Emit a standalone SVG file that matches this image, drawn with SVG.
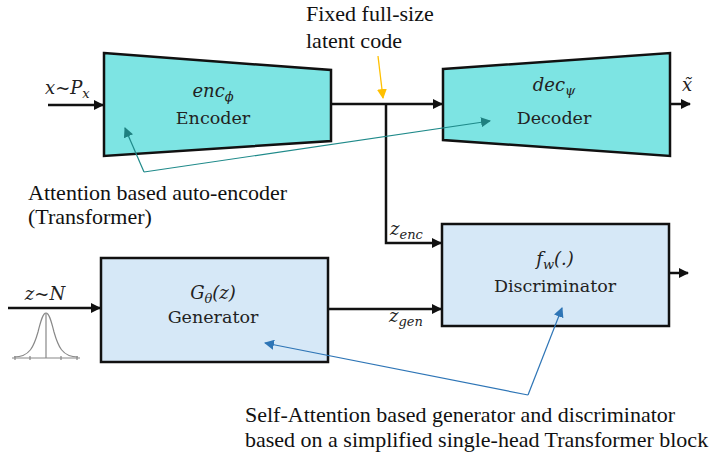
<svg xmlns="http://www.w3.org/2000/svg" width="717" height="453" viewBox="0 0 717 453">
<style>
.box{stroke:#111;stroke-width:2.5;stroke-linejoin:miter}
.ae{fill:#7de4e3}
.gd{fill:#d6e8f7}
.wire{fill:none;stroke:#111;stroke-width:2.5}
.lbl{font-family:"DejaVu Serif",serif;font-size:17.5px;fill:#222;text-anchor:middle}
.math{font-family:"DejaVu Serif",serif;font-style:italic;font-size:18px;fill:#222}
.sub{font-size:13px}
.note{font-family:"Liberation Serif","Times New Roman",serif;font-size:22px;fill:#111}
.teal{fill:none;stroke:#1f8a8a;stroke-width:1.2}
.blue{fill:none;stroke:#2e75b6;stroke-width:1.2}
.gold{fill:none;stroke:#ffc000;stroke-width:1.3}
</style>
<defs>
<marker id="ah" viewBox="0 0 10 10" refX="9" refY="5" markerWidth="4" markerHeight="4" orient="auto" markerUnits="strokeWidth"><path d="M0,0 L10,5 L0,10 z" fill="#111"/></marker>
<marker id="ahTeal" viewBox="0 0 10 10" refX="9" refY="5" markerWidth="10" markerHeight="10" orient="auto" markerUnits="userSpaceOnUse"><path d="M0,0 L10,5 L0,10 z" fill="#1f8080"/></marker>
<marker id="ahBlue" viewBox="0 0 10 10" refX="9" refY="5" markerWidth="10" markerHeight="10" orient="auto" markerUnits="userSpaceOnUse"><path d="M0,0 L10,5 L0,10 z" fill="#2e75b6"/></marker>
<marker id="ahGold" viewBox="0 0 10 10" refX="9" refY="5" markerWidth="10" markerHeight="10" orient="auto" markerUnits="userSpaceOnUse"><path d="M0,0 L10,5 L0,10 z" fill="#ffc000"/></marker>
</defs>

<g id="connectors">
<path class="wire" d="M48,105 H103" marker-end="url(#ah)"/>
<path class="wire" d="M331,104 H442" marker-end="url(#ah)"/>
<path class="wire" d="M386,104 V243 H441" marker-end="url(#ah)"/>
<path class="wire" d="M670,104 H690" marker-end="url(#ah)"/>
<path class="wire" d="M8,308 H100" marker-end="url(#ah)"/>
<path class="wire" d="M328,309 H441" marker-end="url(#ah)"/>
<path class="wire" d="M669,273 H688" marker-end="url(#ah)"/>
</g>

<g id="encoder">
<path class="box ae" d="M104,53 L331,70 L331,141 L104,156 Z"/>
<text class="math" x="213" y="97" text-anchor="middle">enc<tspan class="sub" dy="4">ϕ</tspan></text>
<text class="lbl" x="213" y="124">Encoder</text>
</g>

<g id="decoder">
<path class="box ae" d="M443,69 L670,53 L670,156 L443,140 Z"/>
<text class="math" x="554" y="91" text-anchor="middle">dec<tspan class="sub" dy="4">ψ</tspan></text>
<text class="lbl" x="554" y="124">Decoder</text>
</g>

<g id="generator">
<rect class="box gd" x="101" y="258" width="227" height="104"/>
<text class="math" x="213" y="299" text-anchor="middle">G<tspan class="sub" dy="4">θ</tspan><tspan dy="-4">(z)</tspan></text>
<text class="lbl" x="213" y="323">Generator</text>
</g>

<g id="discriminator">
<rect class="box gd" x="442" y="224" width="227" height="102"/>
<text class="math" x="555" y="265" text-anchor="middle">f<tspan class="sub" dy="4">w</tspan><tspan dy="-4">(.)</tspan></text>
<text class="lbl" x="555" y="292">Discriminator</text>
</g>

<g id="labels">
<text class="math" x="45" y="94">x~P<tspan class="sub" dy="4">x</tspan></text>
<text class="math" x="682" y="91">x̃</text>
<text class="math" x="390" y="235">z<tspan class="sub" dy="4">enc</tspan></text>
<text class="math" x="389" y="322">z<tspan class="sub" dy="4">gen</tspan></text>
<text class="math" x="45" y="300" text-anchor="middle">z~N</text>
</g>

<g id="gaussian" fill="none" stroke="#888" stroke-width="1.2">
<path d="M12,358 H80"/>
<path d="M15,356 V360 M30,356 V360 M61,356 V360 M77,356 V360"/>
<path d="M14,357 C30,357 34,346 38,332 C41,320 43,313 46,313 C49,313 51,320 54,332 C58,346 62,357 78,357"/>
<path d="M46,313 V358"/>
</g>

<g id="annotations">
<path class="gold" d="M378,56 L383,98" marker-end="url(#ahGold)"/>
<path class="teal" d="M144,172 L125,128" marker-end="url(#ahTeal)"/>
<path class="teal" d="M144,172 L490,121" marker-end="url(#ahTeal)"/>
<path class="blue" d="M528,395 L265,343" marker-end="url(#ahBlue)"/>
<path class="blue" d="M528,395 L562,308" marker-end="url(#ahBlue)"/>
</g>

<g id="notes">
<text class="note" x="306" y="21">Fixed full-size</text>
<text class="note" x="306" y="48">latent code</text>
<text class="note" x="28" y="200">Attention based auto-encoder</text>
<text class="note" x="28" y="224">(Transformer)</text>
<text class="note" x="245" y="422">Self-Attention based generator and discriminator</text>
<text class="note" x="245" y="447">based on a simplified single-head Transformer block</text>
</g>
</svg>
